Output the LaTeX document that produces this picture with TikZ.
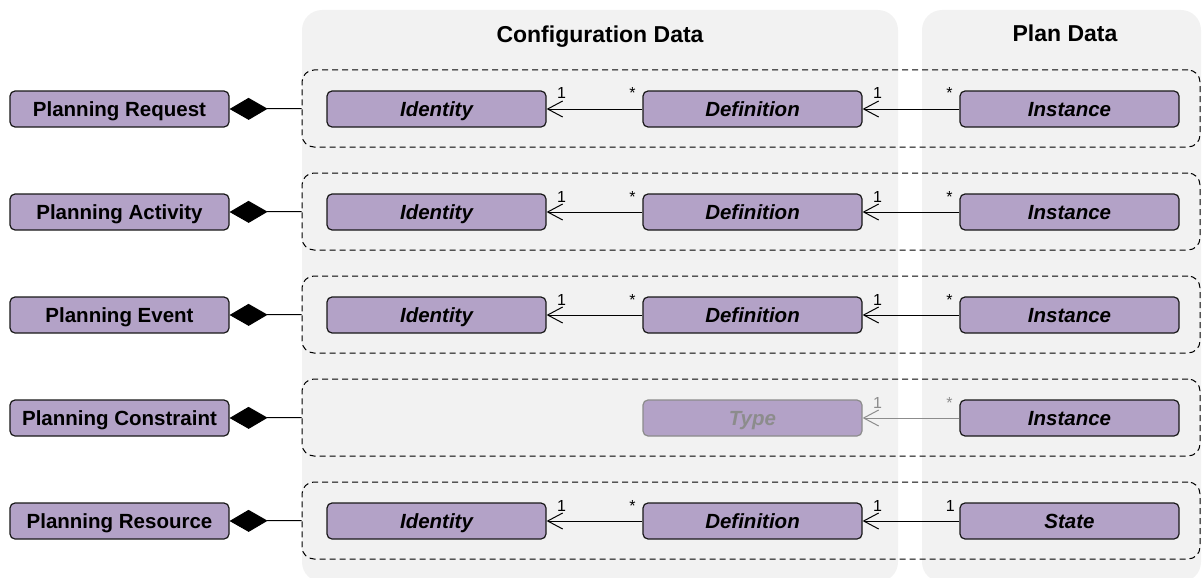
\documentclass[tikz,border=0pt]{standalone}
\usepackage{fontspec}
\setmainfont{Liberation Sans}
\usetikzlibrary{arrows.meta,calc}
\definecolor{boxfill}{HTML}{B3A2C7}
\definecolor{panelfill}{HTML}{F2F2F2}
\definecolor{ghost}{HTML}{8C8C8C}
\tikzset{
  panel/.style={fill=panelfill, draw=none, rounded corners=20pt},
  group/.style={draw=black, line width=1pt, dash pattern=on 6pt off 4pt, rounded corners=12pt,
    minimum width=898pt, minimum height=77pt, inner sep=0pt},
  owner/.style={draw=black!90, fill=boxfill, line width=1.2pt, rounded corners=5pt,
    minimum width=219pt, minimum height=36pt, inner sep=0pt,
    text height=14.5pt, text depth=0pt,
    font=\fontsize{20.5}{24}\selectfont\bfseries},
  entity/.style={owner, font=\fontsize{20.5}{24}\selectfont\bfseries\itshape},
  ghostentity/.style={entity, draw=ghost, text=ghost},
  assoc/.style={line width=1pt, -{Straight Barb[length=15pt,width=16pt,line width=1pt]}},
  ghostassoc/.style={assoc, draw=ghost},
  compose/.style={line width=1pt, -{Diamond[length=38pt,width=22pt,fill=black]}},
  mult/.style={font=\fontsize{16}{18}\selectfont, anchor=base, inner sep=0pt},
  title/.style={font=\fontsize{23}{27}\selectfont\bfseries, anchor=base},
}
\begin{document}
\begin{tikzpicture}[x=1pt,y=-1pt]
  \useasboundingbox (0,0) rectangle (1202,578);
  \clip (0,0) rectangle (1202,578);

  % column panels
  \fill[panel] (302,10) rectangle (898,582);
  \fill[panel] (922,10) rectangle (1201,582);
  \node[title] (cfgtitle) at (600,43) {Configuration Data};
  \node[title] (plantitle) at (1065,42) {Plan Data};

  % one row per planning concept
  \foreach \r/\y/\name in {1/109/Request, 2/212/Activity, 3/315/Event, 4/418/Constraint, 5/521/Resource} {
    \node[group] (g\r) at (751,\y-0.5) {};
    \node[owner] (own\r) at (119.5,\y) {Planning \name};
    \draw[compose] (g\r.west) -- (own\r.east);
  }

  % identity <- definition <- instance chains
  \foreach \r/\y in {1/109, 2/212, 3/315} {
    \node[entity] (id\r) at (436.5,\y) {Identity};
    \node[entity] (def\r) at (752.5,\y) {Definition};
    \node[entity] (inst\r) at (1069.5,\y) {Instance};
    \draw[assoc] (def\r) -- (id\r);
    \draw[assoc] (inst\r) -- (def\r);
    \node[mult] (m1a\r) at ($(id\r.east)+(15,-10)$) {1};
    \node[mult] (m1b\r) at ($(def\r.west)+(-10,-10)$) {*};
    \node[mult] (m2a\r) at ($(def\r.east)+(15,-10)$) {1};
    \node[mult] (m2b\r) at ($(inst\r.west)+(-10,-10)$) {*};
  }

  % constraint row
  \node[ghostentity] (type4) at (752.5,418) {Type};
  \node[entity] (inst4) at (1069.5,418) {Instance};
  \draw[ghostassoc] (inst4) -- (type4);
  \node[mult, text=ghost] (m2a4) at ($(type4.east)+(15,-10)$) {1};
  \node[mult, text=ghost] (m2b4) at ($(inst4.west)+(-10,-10)$) {*};

  % resource row
  \node[entity] (id5) at (436.5,521) {Identity};
  \node[entity] (def5) at (752.5,521) {Definition};
  \node[entity] (state5) at (1069.5,521) {State};
  \draw[assoc] (def5) -- (id5);
  \draw[assoc] (state5) -- (def5);
  \node[mult] (m1a5) at ($(id5.east)+(15,-10)$) {1};
  \node[mult] (m1b5) at ($(def5.west)+(-10,-10)$) {*};
  \node[mult] (m2a5) at ($(def5.east)+(15,-10)$) {1};
  \node[mult] (m2b5) at ($(state5.west)+(-9,-10)$) {1};
\end{tikzpicture}
\end{document}
